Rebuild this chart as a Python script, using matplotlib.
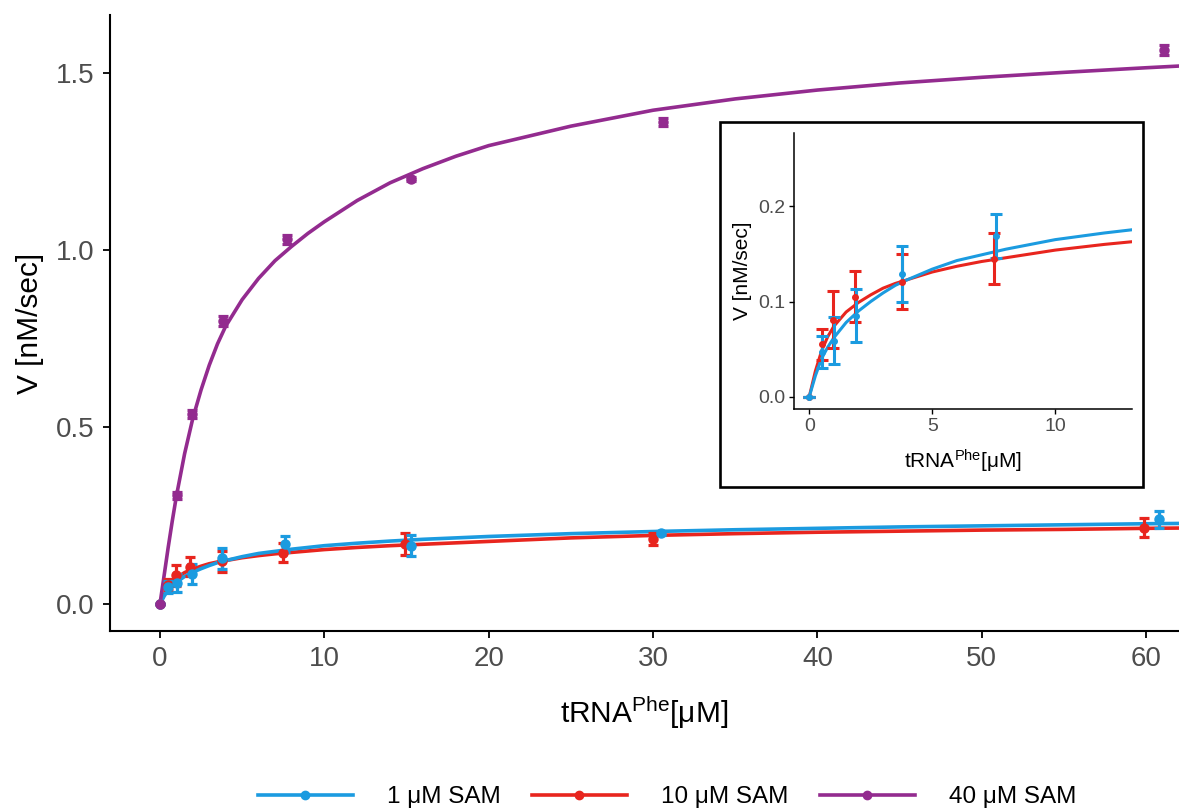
import matplotlib
matplotlib.use("Agg")
import matplotlib.pyplot as plt
from matplotlib.lines import Line2D
from matplotlib.patches import Rectangle

plt.rcParams['font.family'] = ['Liberation Sans', 'DejaVu Sans']
plt.rcParams['mathtext.fontset'] = 'custom'
plt.rcParams['mathtext.rm'] = 'Liberation Sans'
plt.rcParams['mathtext.it'] = 'Liberation Sans:italic'

# measured points (mean, error) per SAM concentration
x_1 = [0, 0.5, 1.02, 1.92, 3.79, 7.59, 15.3, 30.5, 60.8]
v_1 = [0, 0.047, 0.059, 0.085, 0.129, 0.169, 0.165, 0.200, 0.240]
e_1 = [0, 0.017, 0.025, 0.028, 0.029, 0.023, 0.030, 0.006, 0.024]

x_10 = [0, 0.5, 0.95, 1.84, 3.75, 7.5, 14.9, 29.97, 59.9]
v_10 = [0, 0.055, 0.081, 0.105, 0.121, 0.145, 0.170, 0.184, 0.216]
e_10 = [0, 0.016, 0.030, 0.027, 0.029, 0.027, 0.030, 0.017, 0.027]

x_40 = [0, 1.03, 1.95, 3.83, 7.7, 15.3, 30.6, 61.1]
v_40 = [0, 0.308, 0.537, 0.800, 1.030, 1.200, 1.362, 1.565]
e_40 = [0, 0.010, 0.012, 0.015, 0.012, 0.005, 0.012, 0.015]

# fitted curves
fit_x = [0, 0.25, 0.5, 0.75, 1, 1.5, 2, 2.5, 3, 3.5, 4, 5, 6, 7, 8, 9, 10, 12, 14, 16,
         18, 20, 25, 30, 35, 40, 45, 50, 55, 60, 62.5]
fit_1 = [0, 0.022, 0.040, 0.052, 0.062, 0.078, 0.090, 0.100, 0.109, 0.117, 0.123, 0.134,
         0.143, 0.149, 0.155, 0.160, 0.165, 0.172, 0.178, 0.183, 0.187, 0.191, 0.199,
         0.205, 0.210, 0.214, 0.218, 0.221, 0.224, 0.227, 0.228]
fit_10 = [0, 0.027, 0.048, 0.063, 0.074, 0.089, 0.099, 0.107, 0.114, 0.119, 0.123, 0.131,
          0.137, 0.142, 0.146, 0.150, 0.154, 0.160, 0.165, 0.169, 0.173, 0.177, 0.187,
          0.194, 0.199, 0.203, 0.206, 0.209, 0.211, 0.214, 0.215]
fit_40 = [0, 0.08, 0.16, 0.235, 0.305, 0.425, 0.525, 0.605, 0.675, 0.735, 0.785, 0.86,
          0.92, 0.97, 1.01, 1.047, 1.08, 1.14, 1.19, 1.23, 1.265, 1.295, 1.35, 1.395,
          1.427, 1.452, 1.472, 1.488, 1.502, 1.515, 1.521]

labels = ["1 \u03bcM SAM", "10 \u03bcM SAM", "40 \u03bcM SAM"]
BLUE, RED, PURPLE = "#1b9be0", "#e8251e", "#932b8f"

W, H = 1179, 809
fig = plt.figure(figsize=(W / 100, H / 100), dpi=100)

# main panel
ax = fig.add_axes([110 / W, 1 - 631 / H, (W - 110) / W, (631 - 15) / H])
series = [(x_10, v_10, e_10, fit_10, RED), (x_1, v_1, e_1, fit_1, BLUE),
          (x_40, v_40, e_40, fit_40, PURPLE)]
for xs, vs, es, fs, c in series:
    ax.plot(fit_x, fs, color=c, lw=2.6, zorder=2)
    ax.errorbar(xs, vs, yerr=es, fmt='o', color=c, ms=6.5, elinewidth=2.3,
                capsize=3.5, capthick=2.3, zorder=3)
ax.set_xlim(-3.04, 62.0)
ax.set_ylim(-0.076, 1.664)
ax.set_xticks([0, 10, 20, 30, 40, 50, 60])
ax.set_yticks([0, 0.5, 1.0, 1.5])
ax.set_yticklabels(["0.0", "0.5", "1.0", "1.5"])
for s in ['top', 'right']:
    ax.spines[s].set_visible(False)
for s in ['left', 'bottom']:
    ax.spines[s].set_linewidth(1.5)
ax.tick_params(labelsize=20, labelcolor='#4d4d4d', length=5, width=1.3, pad=6)
ax.set_ylabel("V [nM/sec]", fontsize=21.5, labelpad=9)
ax.set_xlabel("tRNA$^{\\mathrm{Phe}}$[\u03bcM]", fontsize=21.5, labelpad=16)

# inset frame and panel
fig.add_artist(Rectangle((720 / W, 1 - 487 / H), 423 / W, 365 / H, transform=fig.transFigure,
                         fill=True, facecolor='white', edgecolor='black', lw=1.9, zorder=4))
ins = fig.add_axes([794 / W, 1 - 409 / H, 338 / W, 276 / H], zorder=5)
ins.patch.set_alpha(0)
for xs, vs, es, fs, c in series[:2]:
    ins.plot(fit_x, fs, color=c, lw=2.2, zorder=2)
    ins.errorbar(xs, vs, yerr=es, fmt='o', color=c, ms=4, elinewidth=2.2,
                 capsize=4, capthick=2.2, zorder=3)
ins.set_xlim(-0.62, 13.12)
ins.set_ylim(-0.0129, 0.277)
ins.set_xticks([0, 5, 10])
ins.set_yticks([0, 0.1, 0.2])
ins.set_yticklabels(["0.0", "0.1", "0.2"])
for s in ['top', 'right']:
    ins.spines[s].set_visible(False)
for s in ['left', 'bottom']:
    ins.spines[s].set_linewidth(1.1)
ins.tick_params(labelsize=14, labelcolor='#4d4d4d', length=3.5, width=1, pad=3)
ins.set_ylabel("V [nM/sec]", fontsize=15, labelpad=4)
ins.set_xlabel("tRNA$^{\\mathrm{Phe}}$[\u03bcM]", fontsize=15, labelpad=9)

# legend below
handles = [Line2D([], [], color=c, lw=2.6, marker='o', ms=6) for c in (BLUE, RED, PURPLE)]
fig.legend(handles, labels, loc='center', bbox_to_anchor=(667 / W, 1 - 797 / H), ncol=3,
           frameon=False, fontsize=17.5, handlelength=3.9, handletextpad=1.4,
           columnspacing=1.3)

fig.savefig("out.png", dpi=100)
